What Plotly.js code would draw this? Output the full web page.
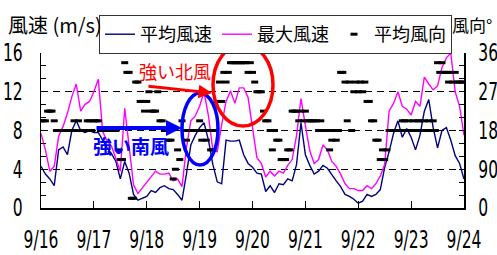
<!DOCTYPE html>
<html><head><meta charset="utf-8">
<script src="https://cdn.plot.ly/plotly-3.0.1.min.js"></script>
<style>html,body{margin:0;padding:0;background:#fff;} #chart{width:497px;height:255px;}</style>
</head><body><div id="chart"></div>
<script>
const dayLabels = ['9/16','9/17','9/18','9/19','9/20','9/21','9/22','9/23','9/24'];
const hoursPerDay = 24;
const speedStepHours = 2;
const dirStepHours = 1;

// 平均風速 (m/s), every 2 hours
const avgSpeed = [
  4.3,3.5,3.0,2.3,6.0,6.3,5.5,8.0,9.0,8.0,7.8,8.0,
  7.8,7.8,7.0,6.2,5.6,4.8,3.0,4.8,3.6,1.4,0.8,1.0,
  1.2,1.8,1.6,2.1,2.3,2.0,1.9,1.4,0.8,3.5,6.5,7.5,
  8.3,8.8,7.0,4.5,2.7,2.5,7.0,6.9,6.9,7.0,5.5,4.6,
  4.2,3.6,3.5,1.7,2.3,1.6,2.5,2.4,3.0,2.8,4.5,8.8,
  5.5,4.4,3.5,3.8,4.4,4.1,3.4,2.8,2.2,1.4,1.2,0.9,
  0.5,0.7,1.4,1.2,1.4,1.9,4.2,5.8,7.7,9.0,7.3,8.2,
  7.3,6.0,7.5,10.0,11.2,8.3,6.2,8.0,8.3,7.0,5.4,4.6,
  3.0
];
// 最大風速 (m/s), every 2 hours
const maxSpeed = [
  7.7,6.0,3.8,4.3,7.4,8.4,9.8,11.5,12.8,10.0,10.7,11.0,
  12.0,13.3,7.9,6.9,6.4,5.2,3.8,10.3,6.5,2.4,1.5,2.1,
  2.6,3.2,3.8,3.5,3.5,3.6,2.8,3.0,2.2,6.2,9.0,9.5,
  10.5,12.0,9.5,6.0,5.8,8.6,11.0,12.1,10.8,12.4,12.4,11.4,
  8.5,5.2,4.6,3.2,3.8,3.3,3.8,3.6,4.4,5.0,7.5,11.3,
  8.5,5.9,4.6,5.0,6.5,6.0,4.8,4.3,3.5,2.5,2.0,2.0,
  1.8,1.8,2.3,2.0,2.5,3.3,4.5,10.0,10.8,12.0,10.5,10.2,
  9.6,11.0,10.5,13.5,12.8,12.2,12.6,14.5,15.5,16.0,12.0,10.5,
  7.5
];
// 平均風向 (degrees), hourly
const avgDirection = [
  202.5,202.5,202.5,225,225,225,202.5,180,180,180,180,180,180,180,180,202.5,180,202.5,180,180,180,202.5,202.5,180,
  202.5,202.5,202.5,180,180,180,180,180,180,180,180,135,112.5,112.5,337.5,315,315,22.5,22.5,292.5,292.5,247.5,247.5,225,
  247.5,270,225,225,225,270,202.5,202.5,180,180,157.5,157.5,67.5,90,135,112.5,202.5,180,157.5,180,180,180,180,180,
  202.5,157.5,180,157.5,180,135,135,180,247.5,292.5,247.5,315,292.5,315,337.5,337.5,337.5,337.5,337.5,337.5,337.5,337.5,315,337.5,
  315,292.5,270,270,270,225,202.5,202.5,180,135,180,157.5,157.5,112.5,112.5,112.5,135,135,225,225,225,202.5,225,202.5,
  225,202.5,202.5,202.5,202.5,202.5,180,202.5,180,180,180,135,157.5,180,157.5,180,315,315,292.5,202.5,292.5,180,270,292.5,
  270,292.5,270,292.5,247.5,247.5,202.5,202.5,157.5,157.5,112.5,135,112.5,135,180,180,180,180,180,180,202.5,202.5,180,202.5,
  180,202.5,180,202.5,202.5,180,202.5,180,202.5,180,202.5,180,337.5,315,337.5,315,315,292.5,315,292.5,315,292.5,292.5,292.5,
  292.5
];
const leftTicks = [0,4,8,12,16];
const rightTicks = [0,90,180,270,360];
const rightTickText = ['0','90','180','270','360'];
const seriesNames = ['平均風速','最大風速','平均風向'];

const tSpeed = avgSpeed.map((_, i) => i * speedStepHours);
const tDir = avgDirection.map((_, i) => i * dirStepHours);
const dayTicks = dayLabels.map((_, i) => i * hoursPerDay);

const numFont = '"DejaVu Sans Condensed", "Liberation Sans Narrow", "Noto Sans CJK JP", sans-serif';
const cjkFont = '"Noto Sans CJK JP", "Noto Sans", sans-serif';

// pixel -> paper helpers for decorations (plot area: x 41..464, y 53..208)
const PL = 41, PW = 423, PB = 208, PH = 155;
const px = v => (v - PL) / PW;
const py = v => (PB - v) / PH;

const traces = [
  {x: tSpeed, y: avgSpeed, name: seriesNames[0], type: 'scatter', mode: 'lines',
   line: {color: '#000080', width: 1.4}},
  {x: tSpeed, y: maxSpeed, name: seriesNames[1], type: 'scatter', mode: 'lines',
   line: {color: '#ff00ff', width: 1.4}},
  {x: tDir, y: avgDirection, name: seriesNames[2], type: 'scatter', mode: 'markers', yaxis: 'y2',
   marker: {symbol: 'line-ew', size: 5, color: '#000', line: {color: '#000', width: 3}}}
];

const tickFont = {family: numFont, size: 24, color: '#000'};

const layout = {
  width: 497, height: 255,
  margin: {l: 41, r: 33, t: 53, b: 47, pad: 0},
  paper_bgcolor: '#fff', plot_bgcolor: '#fff',
  font: {family: numFont, color: '#000'},
  showlegend: true,
  legend: {orientation: 'h', x: px(99), xanchor: 'left', y: py(15), yanchor: 'top',
           bgcolor: '#fff', bordercolor: '#333', borderwidth: 1,
           font: {family: cjkFont, size: 18, color: '#000'}},
  xaxis: {range: [0, 192], tickvals: dayTicks, ticktext: dayLabels, ticks: 'inside', ticklen: 7,
          tickcolor: '#000', tickwidth: 1, showline: true, linecolor: '#000', linewidth: 1.5,
          showgrid: false, zeroline: false, tickfont: tickFont,
          ticklabelstandoff: 10, fixedrange: true},
  yaxis: {range: [0, 16], tickvals: leftTicks, ticks: 'inside', ticklen: 5, tickcolor: '#000',
          showgrid: true, gridcolor: '#000', gridwidth: 1, griddash: '7px,5px',
          showline: true, linecolor: '#000', linewidth: 1.5, zeroline: false,
          minor: {dtick: 4/3, ticks: 'inside', ticklen: 5, tickcolor: '#000', showgrid: false},
          tickfont: tickFont, ticklabelstandoff: 12},
  yaxis2: {range: [0, 360], overlaying: 'y', side: 'right', tickvals: rightTicks, ticktext: rightTickText,
           ticks: 'inside', ticklen: 5, tickcolor: '#000', showgrid: false,
           showline: true, linecolor: '#000', linewidth: 1.5, zeroline: false,
           minor: {dtick: 30, ticks: 'inside', ticklen: 5, tickcolor: '#000', showgrid: false},
           tickfont: tickFont, ticklabelstandoff: 8},
  shapes: [
    {type: 'circle', xref: 'paper', yref: 'paper', x0: px(213), x1: px(273), y0: py(126), y1: py(44),
     line: {color: '#ff0000', width: 3.5}, fillcolor: 'rgba(0,0,0,0)'},
    {type: 'circle', xref: 'paper', yref: 'paper', x0: px(182), x1: px(218), y0: py(165), y1: py(93),
     line: {color: '#0000ff', width: 3.5}, fillcolor: 'rgba(0,0,0,0)'}
  ],
  annotations: [
    {text: '風速 (m/s)', xref: 'paper', yref: 'paper', x: px(6), y: py(24), xanchor: 'left', yanchor: 'middle',
     showarrow: false, font: {family: cjkFont, size: 20, color: '#000'}},
    {text: '風向°', xref: 'paper', yref: 'paper', x: px(450), y: py(24), xanchor: 'left', yanchor: 'middle',
     showarrow: false, font: {family: cjkFont, size: 17, color: '#000'}},
    {text: '強い北風', xref: 'paper', yref: 'paper', x: px(175), y: py(71), xanchor: 'center', yanchor: 'middle',
     showarrow: false, font: {family: cjkFont, size: 18, color: '#ff0000'}},
    {text: '<b>強い南風</b>', xref: 'paper', yref: 'paper', x: px(131), y: py(145), xanchor: 'center', yanchor: 'middle',
     showarrow: false, font: {family: cjkFont, size: 19, color: '#0000ff'}},
    {text: '', xref: 'paper', yref: 'paper', x: px(182), y: py(128), showarrow: true,
     ax: -87, ay: 0, arrowcolor: '#0000ff', arrowwidth: 4, arrowhead: 2, arrowsize: 0.8, standoff: 0},
    {text: '', xref: 'paper', yref: 'paper', x: px(212), y: py(93), showarrow: true,
     ax: -65, ay: -7, arrowcolor: '#ff0000', arrowwidth: 3, arrowhead: 2, arrowsize: 0.9, standoff: 0}
  ]
};

const gd = document.getElementById('chart');
Plotly.newPlot(gd, traces, layout, {staticPlot: true, displayModeBar: false}).then(() => {
  // narrow the tick-label glyphs, like the condensed numerals of the original
  gd.querySelectorAll('.xtick text, .ytick text, .y2tick text').forEach(t => {
    const w = t.getComputedTextLength();
    if (w > 0) {
      t.setAttribute('textLength', (w * 0.72).toFixed(1));
      t.setAttribute('lengthAdjust', 'spacingAndGlyphs');
    }
  });
});
</script>
</body></html>
